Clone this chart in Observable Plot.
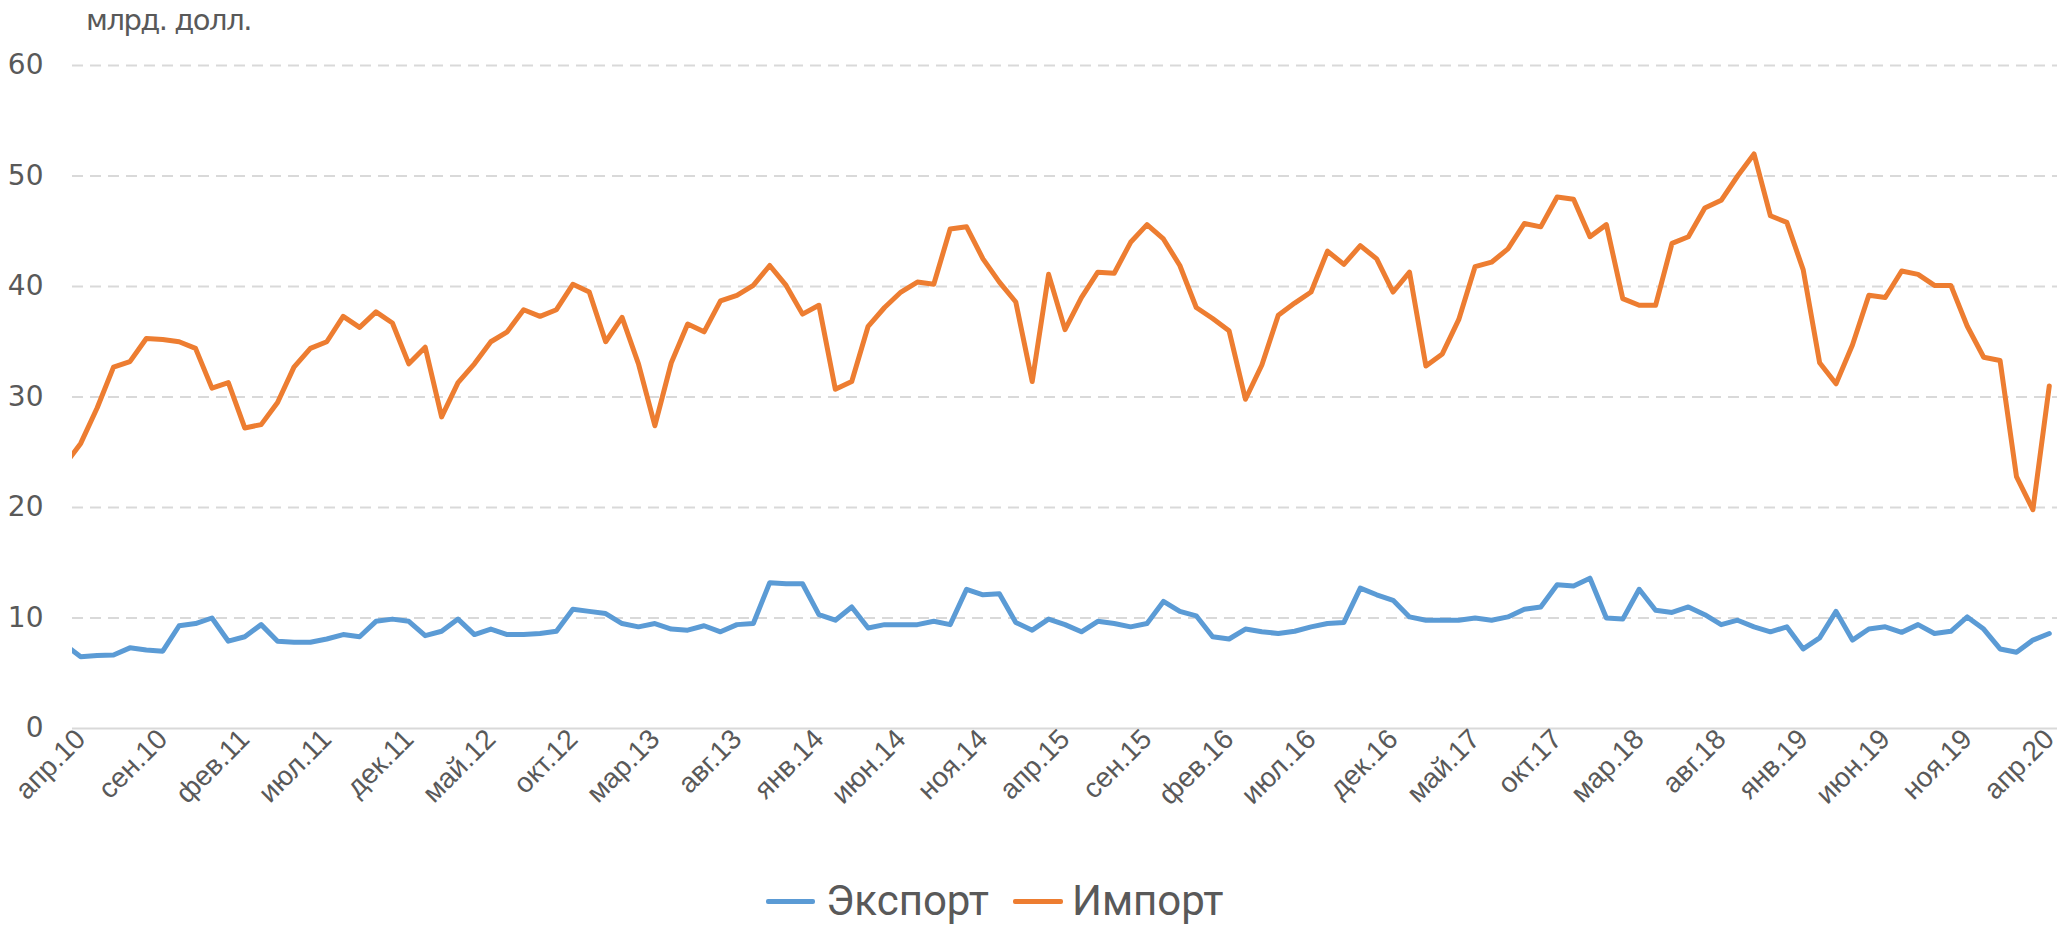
<!DOCTYPE html>
<html>
<head>
<meta charset="utf-8">
<script src="https://cdn.jsdelivr.net/npm/d3@7"></script>
<script src="https://cdn.jsdelivr.net/npm/@observablehq/plot@0.6"></script>
<style>
  html, body { margin: 0; padding: 0; background: #ffffff; }
  #wrap { position: relative; width: 2071px; height: 926px; overflow: hidden; background: #fff; }
  #title { position: absolute; left: 86px; top: 6px; font-family: "DejaVu Sans", sans-serif; font-size: 29px; letter-spacing: -1.5px; line-height: 1; color: #595959; }
  #chart { position: absolute; left: 0; top: 44px; }
  .sw { position: absolute; height: 5px; top: 899px; border-radius: 2px; }
  .lt { position: absolute; top: 881px; font-family: Roboto, "Noto Sans", sans-serif; font-size: 42px; line-height: 40px; color: #595959; }
</style>
</head>
<body>
<div id="wrap">
  <div id="title">млрд. долл.</div>
  <div id="chart"></div>
  <div class="sw" style="left:766px;width:49px;background:#5B9BD5"></div>
  <div class="lt" id="lg1" style="left:826px">Экспорт</div>
  <div class="sw" style="left:1013px;width:50px;background:#ED7D31"></div>
  <div class="lt" id="lg2" style="left:1072px">Импорт</div>
</div>
<script>
// Monthly values, first entry = мар.10 (only its half-segment is visible, clipped at the left edge),
// then апр.10 … апр.20
const seriesNames = ["Экспорт", "Импорт"];
const seriesColors = ["#5B9BD5", "#ED7D31"];
const firstIndex = -1; // мар.10 relative to апр.10

const exportValues = [
  7.6,
  6.5, 6.6, 6.65, 7.3, 7.1, 7.0, 9.3, 9.5, 10.0, 7.9,
  8.3, 9.4, 7.9, 7.8, 7.8, 8.1, 8.5, 8.3, 9.7, 9.9,
  9.7, 8.4, 8.8, 9.9, 8.5, 9.0, 8.5, 8.5, 8.6, 8.8,
  10.8, 10.6, 10.4, 9.5, 9.2, 9.5, 9.0, 8.9, 9.3, 8.75,
  9.4, 9.5, 13.2, 13.1, 13.1, 10.3, 9.8, 11.0, 9.1, 9.4,
  9.4, 9.4, 9.7, 9.4, 12.6, 12.1, 12.2, 9.6, 8.9, 9.9,
  9.4, 8.75, 9.7, 9.5, 9.2, 9.5, 11.5, 10.6, 10.2, 8.3,
  8.1, 9.0, 8.75, 8.6, 8.8, 9.2, 9.5, 9.6, 12.7, 12.1,
  11.6, 10.1, 9.8, 9.8, 9.8, 10.0, 9.8, 10.1, 10.8, 11.0,
  13.0, 12.9, 13.6, 10.0, 9.9, 12.6, 10.7, 10.5, 11.0, 10.3,
  9.4, 9.8, 9.2, 8.75, 9.2, 7.2, 8.2, 10.6, 8.0, 9.0,
  9.2, 8.7, 9.4, 8.6, 8.8, 10.1, 9.0, 7.2, 6.9, 8.0,
  8.6
];

const importValues = [
  23.8,
  25.8, 29.0, 32.7, 33.2, 35.3, 35.2, 35.0, 34.4, 30.8, 31.3,
  27.2, 27.5, 29.5, 32.7, 34.4, 35.0, 37.3, 36.3, 37.7, 36.7,
  33.0, 34.5, 28.2, 31.3, 33.0, 35.0, 35.9, 37.9, 37.3, 37.9,
  40.2, 39.5, 35.0, 37.2, 33.0, 27.4, 33.1, 36.6, 35.9, 38.7,
  39.2, 40.1, 41.9, 40.1, 37.5, 38.3, 30.7, 31.4, 36.4, 38.1,
  39.5, 40.4, 40.2, 45.2, 45.4, 42.5, 40.4, 38.6, 31.4, 41.1,
  36.1, 39.0, 41.3, 41.2, 44.0, 45.6, 44.3, 41.9, 38.1, 37.1,
  36.0, 29.8, 32.9, 37.4, 38.5, 39.5, 43.2, 42.0, 43.7, 42.5,
  39.5, 41.3, 32.8, 33.9, 37.0, 41.8, 42.2, 43.4, 45.7, 45.4,
  48.1, 47.9, 44.5, 45.6, 38.9, 38.3, 38.3, 43.9, 44.5, 47.1,
  47.8, 50.0, 52.0, 46.4, 45.8, 41.5, 33.1, 31.2, 34.7, 39.2,
  39.0, 41.4, 41.1, 40.1, 40.1, 36.4, 33.6, 33.3, 22.8, 19.8,
  31.0
];

const tickLabels = [
  "апр.10", "сен.10", "фев.11", "июл.11", "дек.11", "май.12", "окт.12", "мар.13",
  "авг.13", "янв.14", "июн.14", "ноя.14", "апр.15", "сен.15", "фев.16", "июл.16",
  "дек.16", "май.17", "окт.17", "мар.18", "авг.18", "янв.19", "июн.19", "ноя.19", "апр.20"
];
const tickStep = 5;
const yTicks = [0, 10, 20, 30, 40, 50, 60];
const gridValues = [10, 20, 30, 40, 50, 60];

const rows = [];
exportValues.forEach((v, k) => rows.push({i: firstIndex + k, value: v, series: seriesNames[0]}));
importValues.forEach((v, k) => rows.push({i: firstIndex + k, value: v, series: seriesNames[1]}));
const tickIdx = tickLabels.map((_, k) => k * tickStep);
const lastIdx = firstIndex + importValues.length - 1;

const chart = Plot.plot({
  width: 2071,
  height: 800,
  marginLeft: 72,
  marginRight: 14,
  marginTop: 21,
  marginBottom: 116,
  style: {background: "transparent", color: "#595959", overflow: "visible"},
  x: {domain: [-0.5, lastIdx + 0.5], axis: null},
  y: {domain: [0, 60], axis: null},
  color: {domain: seriesNames, range: seriesColors},
  marks: [
    Plot.ruleY(gridValues, {stroke: "#d9d9d9", strokeWidth: 2, strokeDasharray: "11,7"}),
    Plot.ruleY([0], {stroke: "#d9d9d9", strokeWidth: 2}),
    Plot.axisY({ticks: yTicks, tickSize: 0, tickPadding: 29, fontSize: 28, fontFamily: "DejaVu Sans", label: null}),
    Plot.axisX({ticks: tickIdx, tickFormat: d => tickLabels[d / tickStep], tickRotate: -45, tickSize: 0, tickPadding: 6, fontSize: 28, fontFamily: "Liberation Sans", label: null}),
    Plot.lineY(rows, {x: "i", y: "value", z: "series", stroke: "series", strokeWidth: 5, clip: true, strokeLinejoin: "round"})
  ]
});
document.getElementById("chart").appendChild(chart);
</script>
</body>
</html>
